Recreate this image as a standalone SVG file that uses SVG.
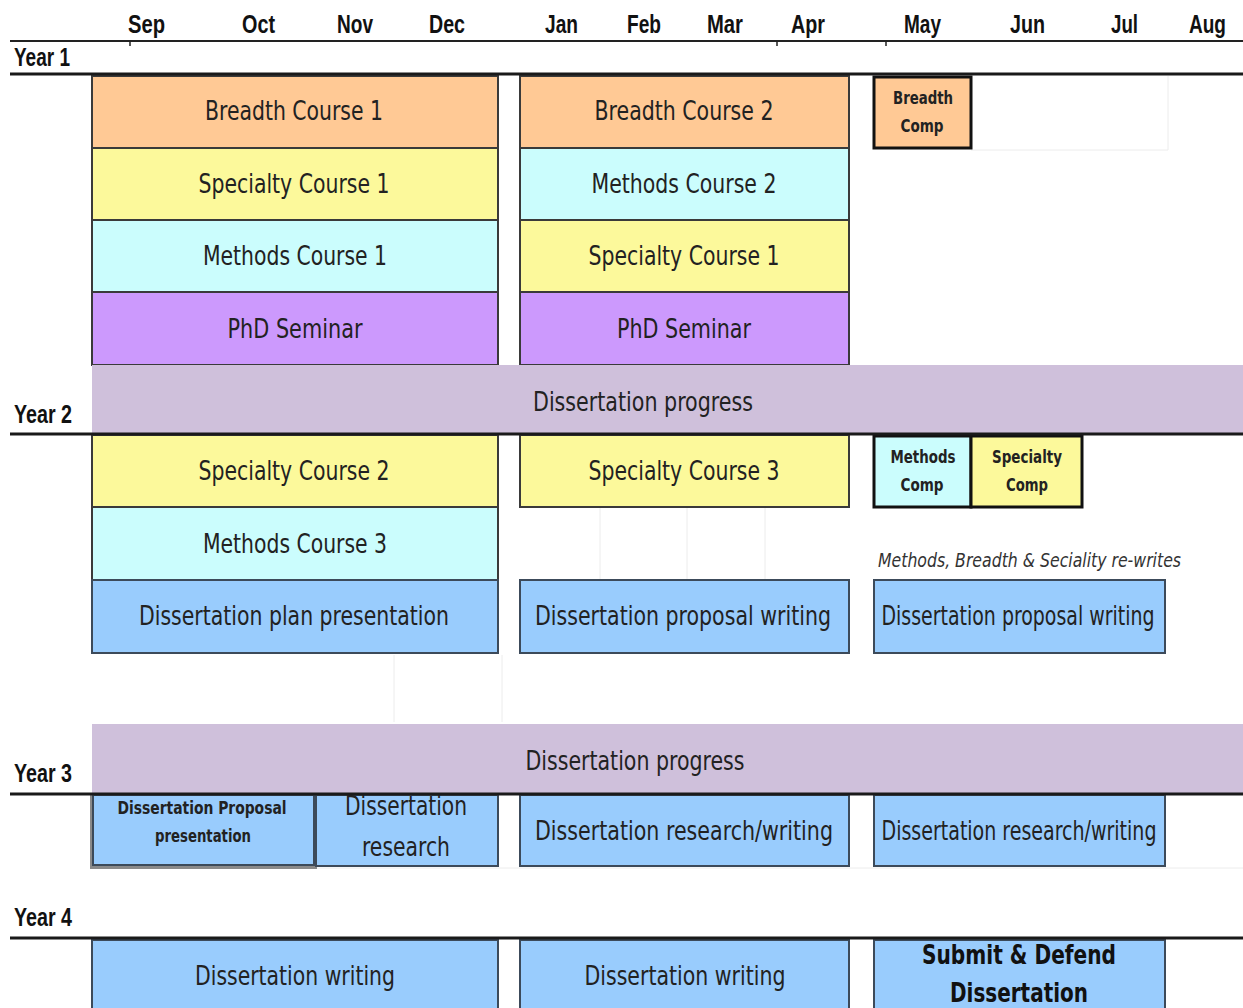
<svg xmlns="http://www.w3.org/2000/svg" width="1243" height="1008" viewBox="0 0 1243 1008">
<style>
.hdr{font-family:"Liberation Sans Narrow","Liberation Sans",Arial,sans-serif;font-weight:bold;font-size:26px;fill:#111}
.yr{font-family:"Liberation Sans Narrow","Liberation Sans",Arial,sans-serif;font-weight:bold;font-size:25px;fill:#111}
.t{font-family:"DejaVu Sans Condensed","DejaVu Sans",sans-serif;font-size:26px;fill:#222;text-anchor:middle}
.tb{font-family:"DejaVu Sans Condensed","DejaVu Sans",sans-serif;font-size:17px;font-weight:bold;fill:#222;text-anchor:middle}
.tbig{font-family:"DejaVu Sans Condensed","DejaVu Sans",sans-serif;font-size:26px;font-weight:bold;fill:#111;text-anchor:middle}
.it{font-family:"DejaVu Sans Condensed","DejaVu Sans",sans-serif;font-size:20px;font-style:italic;fill:#333}
.box{stroke:#3a3a3a;stroke-width:2}
.comp{stroke:#111;stroke-width:3}
.peach{fill:#FFC995}
.yel{fill:#FCF99B}
.cyan{fill:#CBFDFD}
.purp{fill:#CC99FD}
.bluebox{fill:#99CCFD;stroke:#3c4a5a;stroke-width:2}
.band{fill:#CFC0DB}
.rule{stroke:#1a1a1a;stroke-width:3}
.grid{stroke:#ececec;stroke-width:1}
</style>
<defs>
<clipPath id="clipRes"><rect x="315" y="795" width="183" height="71"/></clipPath>
</defs>

<g id="grid">
<line class="grid" x1="1168" y1="76" x2="1168" y2="150"/>
<line class="grid" x1="971" y1="150" x2="1168" y2="150"/>
<line class="grid" x1="600" y1="508" x2="600" y2="580"/>
<line class="grid" x1="687" y1="508" x2="687" y2="580"/>
<line class="grid" x1="765" y1="508" x2="765" y2="580"/>
<line class="grid" x1="394" y1="655" x2="394" y2="722"/>
<line class="grid" x1="502" y1="655" x2="502" y2="722"/>
<line class="grid" x1="90" y1="868" x2="1243" y2="868"/>
</g>

<g id="months">
<text class="hdr" x="128" y="33" textLength="37" lengthAdjust="spacingAndGlyphs">Sep</text>
<text class="hdr" x="242" y="33" textLength="33" lengthAdjust="spacingAndGlyphs">Oct</text>
<text class="hdr" x="337" y="33" textLength="36" lengthAdjust="spacingAndGlyphs">Nov</text>
<text class="hdr" x="429" y="33" textLength="36" lengthAdjust="spacingAndGlyphs">Dec</text>
<text class="hdr" x="545" y="33" textLength="33" lengthAdjust="spacingAndGlyphs">Jan</text>
<text class="hdr" x="627" y="33" textLength="34" lengthAdjust="spacingAndGlyphs">Feb</text>
<text class="hdr" x="707" y="33" textLength="36" lengthAdjust="spacingAndGlyphs">Mar</text>
<text class="hdr" x="791" y="33" textLength="34" lengthAdjust="spacingAndGlyphs">Apr</text>
<text class="hdr" x="904" y="33" textLength="37" lengthAdjust="spacingAndGlyphs">May</text>
<text class="hdr" x="1010" y="33" textLength="35" lengthAdjust="spacingAndGlyphs">Jun</text>
<text class="hdr" x="1111" y="33" textLength="27" lengthAdjust="spacingAndGlyphs">Jul</text>
<text class="hdr" x="1189" y="33" textLength="37" lengthAdjust="spacingAndGlyphs">Aug</text>
</g>

<g id="year-labels">
<text class="yr" x="14" y="66" textLength="56" lengthAdjust="spacingAndGlyphs">Year 1</text>
<text class="yr" x="14" y="423" textLength="58" lengthAdjust="spacingAndGlyphs">Year 2</text>
<text class="yr" x="14" y="782" textLength="58" lengthAdjust="spacingAndGlyphs">Year 3</text>
<text class="yr" x="14" y="926" textLength="58" lengthAdjust="spacingAndGlyphs">Year 4</text>
</g>

<!-- Year 1 -->
<g id="breadth-course-1"><rect class="box peach" x="92" y="76" width="406" height="72"/><text class="t" x="294" y="120" textLength="178" lengthAdjust="spacingAndGlyphs">Breadth Course 1</text></g>
<g id="specialty-course-1a"><rect class="box yel" x="92" y="148" width="406" height="72"/><text class="t" x="294" y="193" textLength="191" lengthAdjust="spacingAndGlyphs">Specialty Course 1</text></g>
<g id="methods-course-1"><rect class="box cyan" x="92" y="220" width="406" height="72"/><text class="t" x="295" y="265" textLength="184" lengthAdjust="spacingAndGlyphs">Methods Course 1</text></g>
<g id="phd-seminar-1"><rect class="box purp" x="92" y="292" width="406" height="73"/><text class="t" x="295" y="338" textLength="135" lengthAdjust="spacingAndGlyphs">PhD Seminar</text></g>

<g id="breadth-course-2"><rect class="box peach" x="520" y="76" width="329" height="72"/><text class="t" x="684" y="120" textLength="179" lengthAdjust="spacingAndGlyphs">Breadth Course 2</text></g>
<g id="methods-course-2"><rect class="box cyan" x="520" y="148" width="329" height="72"/><text class="t" x="684" y="193" textLength="185" lengthAdjust="spacingAndGlyphs">Methods Course 2</text></g>
<g id="specialty-course-1b"><rect class="box yel" x="520" y="220" width="329" height="72"/><text class="t" x="684" y="265" textLength="191" lengthAdjust="spacingAndGlyphs">Specialty Course 1</text></g>
<g id="phd-seminar-2"><rect class="box purp" x="520" y="292" width="329" height="73"/><text class="t" x="684" y="338" textLength="134" lengthAdjust="spacingAndGlyphs">PhD Seminar</text></g>

<g id="breadth-comp"><rect class="comp peach" x="874" y="77" width="97" height="71"/><text class="tb" x="923" y="104" textLength="60" lengthAdjust="spacingAndGlyphs">Breadth</text><text class="tb" x="922" y="132" textLength="43" lengthAdjust="spacingAndGlyphs">Comp</text></g>

<g id="progress-1"><rect class="band" x="92" y="365" width="1151" height="68"/><text class="t" x="643" y="411" textLength="220" lengthAdjust="spacingAndGlyphs">Dissertation progress</text></g>

<!-- Year 2 -->
<g id="specialty-course-2"><rect class="box yel" x="92" y="435" width="406" height="72"/><text class="t" x="294" y="480" textLength="191" lengthAdjust="spacingAndGlyphs">Specialty Course 2</text></g>
<g id="methods-course-3"><rect class="box cyan" x="92" y="507" width="406" height="73"/><text class="t" x="295" y="553" textLength="184" lengthAdjust="spacingAndGlyphs">Methods Course 3</text></g>
<g id="dissertation-plan"><rect class="bluebox" x="92" y="580" width="406" height="73"/><text class="t" x="294" y="625" textLength="310" lengthAdjust="spacingAndGlyphs">Dissertation plan presentation</text></g>

<g id="specialty-course-3"><rect class="box yel" x="520" y="435" width="329" height="72"/><text class="t" x="684" y="480" textLength="191" lengthAdjust="spacingAndGlyphs">Specialty Course 3</text></g>
<g id="proposal-writing-1"><rect class="bluebox" x="520" y="580" width="329" height="73"/><text class="t" x="683" y="625" textLength="296" lengthAdjust="spacingAndGlyphs">Dissertation proposal writing</text></g>

<g id="methods-comp"><rect class="comp cyan" x="874" y="436" width="97" height="71"/><text class="tb" x="923" y="463" textLength="65" lengthAdjust="spacingAndGlyphs">Methods</text><text class="tb" x="922" y="491" textLength="43" lengthAdjust="spacingAndGlyphs">Comp</text></g>
<g id="specialty-comp"><rect class="comp yel" x="971" y="436" width="111" height="71"/><text class="tb" x="1027" y="463" textLength="70" lengthAdjust="spacingAndGlyphs">Specialty</text><text class="tb" x="1027" y="491" textLength="42" lengthAdjust="spacingAndGlyphs">Comp</text></g>

<g id="rewrites-note"><text class="it" x="878" y="567" textLength="303" lengthAdjust="spacingAndGlyphs">Methods, Breadth &amp; Seciality re-writes</text></g>
<g id="proposal-writing-2"><rect class="bluebox" x="874" y="580" width="291" height="73"/><text class="t" x="1018" y="625" font-size="24" textLength="273" lengthAdjust="spacingAndGlyphs">Dissertation proposal writing</text></g>

<!-- Year 3 -->
<g id="proposal-presentation"><rect x="90" y="793" width="227" height="76" fill="#8a8a8a"/><rect class="bluebox" x="93" y="795" width="221" height="70"/><text class="tb" x="202" y="814" textLength="169" lengthAdjust="spacingAndGlyphs">Dissertation  Proposal</text><text class="tb" x="203" y="842" textLength="96" lengthAdjust="spacingAndGlyphs">presentation</text></g>
<g id="dissertation-research"><rect class="bluebox" x="316" y="795" width="182" height="71"/><g clip-path="url(#clipRes)"><text class="t" x="406" y="815" textLength="122" lengthAdjust="spacingAndGlyphs">Dissertation</text></g><text class="t" x="406" y="856" textLength="88" lengthAdjust="spacingAndGlyphs">research</text></g>
<g id="research-writing-1"><rect class="bluebox" x="520" y="795" width="329" height="71"/><text class="t" x="684" y="840" textLength="298" lengthAdjust="spacingAndGlyphs">Dissertation research/writing</text></g>
<g id="research-writing-2"><rect class="bluebox" x="874" y="795" width="291" height="71"/><text class="t" x="1019" y="840" font-size="24" textLength="275" lengthAdjust="spacingAndGlyphs">Dissertation research/writing</text></g>

<g id="progress-2"><rect class="band" x="92" y="724" width="1151" height="69"/><text class="t" x="635" y="770" textLength="219" lengthAdjust="spacingAndGlyphs">Dissertation progress</text></g>

<!-- Year 4 -->
<g id="writing-1"><rect class="bluebox" x="92" y="940" width="406" height="72"/><text class="t" x="295" y="985" textLength="200" lengthAdjust="spacingAndGlyphs">Dissertation writing</text></g>
<g id="writing-2"><rect class="bluebox" x="520" y="940" width="329" height="72"/><text class="t" x="685" y="985" textLength="201" lengthAdjust="spacingAndGlyphs">Dissertation writing</text></g>
<g id="submit-defend"><rect class="bluebox" x="874" y="940" width="291" height="72" stroke-width="3" stroke="#2a3440"/><text class="tbig" x="1019" y="964" textLength="194" lengthAdjust="spacingAndGlyphs">Submit &amp; Defend</text><text class="tbig" x="1019" y="1002" textLength="138" lengthAdjust="spacingAndGlyphs">Dissertation</text></g>

<g id="rules">
<line x1="10" y1="41" x2="1243" y2="41" stroke="#222" stroke-width="2"/>
<line x1="130" y1="41" x2="130" y2="46" stroke="#222" stroke-width="1.5"/>
<line x1="777" y1="41" x2="777" y2="46" stroke="#222" stroke-width="1.5"/>
<line x1="886" y1="41" x2="886" y2="46" stroke="#222" stroke-width="1.5"/>
<line class="rule" x1="10" y1="74" x2="1243" y2="74"/>
<line class="rule" x1="10" y1="434" x2="1243" y2="434"/>
<line class="rule" x1="10" y1="794" x2="1243" y2="794"/>
<line class="rule" x1="10" y1="938" x2="1243" y2="938"/>
</g>
<g id="connectors"/>
</svg>
